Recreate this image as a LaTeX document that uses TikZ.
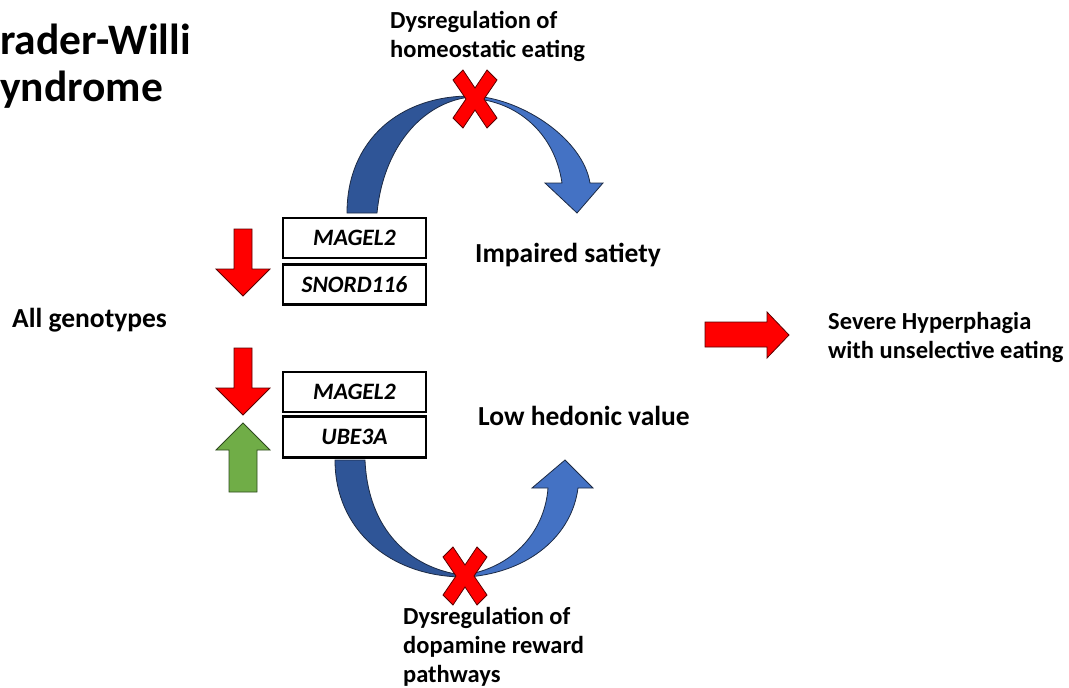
\documentclass[tikz,border=0pt]{standalone}
\usepackage{fontspec}
\setmainfont{Carlito}
\usetikzlibrary{positioning}
\definecolor{arcdark}{HTML}{2F5597}
\definecolor{arclight}{HTML}{4472C4}
\definecolor{arcline}{HTML}{1C2A44}
\definecolor{blockred}{HTML}{FF0000}
\definecolor{redline}{HTML}{5A0000}
\definecolor{blockgreen}{HTML}{70AD47}
\definecolor{greenline}{HTML}{2E4A1E}

\begin{document}
\begin{tikzpicture}[x=1pt, y=-1pt,
  title/.style={font=\fontsize{43.5}{53}\selectfont\bfseries, inner sep=0pt, anchor=base west},
  lbl/.style={font=\fontsize{27.5}{33}\selectfont\bfseries, inner sep=0pt, anchor=base west},
  note/.style={font=\fontsize{24.5}{29}\selectfont\bfseries, inner sep=0pt, anchor=north west, align=left},
  genebox/.style={draw, line width=2.6pt, minimum width=143pt, minimum height=40pt, inner sep=0pt, font=\fontsize{23.5}{28}\selectfont\bfseries\itshape},
  backarc/.style={fill=arcdark, draw=arcline, line width=0.8pt},
  frontarc/.style={fill=arclight, draw=arcline, line width=0.8pt},
  redblock/.style={fill=blockred, draw=redline, line width=0.8pt},
  greenblock/.style={fill=blockgreen, draw=greenline, line width=0.8pt},
  redx/.pic={\filldraw[redblock] (-22,-19) -- (-12,-29) -- (0,-11) -- (12,-29) -- (22,-19) -- (9,0) -- (22,19) -- (12,29) -- (0,11) -- (-12,29) -- (-22,19) -- (-9,0) -- cycle;}]
\useasboundingbox (0,0) rectangle (1069,688);

% title, cut at the left edge
\node[title] (titleA) at (0,54) {rader-Willi};
\node[title] (titleB) at (0,101) {yndrome};

% homeostatic loop
\filldraw[backarc] (347,213) .. controls (347,140) and (400,96) .. (470,96)
  -- (470,97) .. controls (420,103) and (383,150) .. (377,213) -- cycle;
\filldraw[frontarc] (475,96) .. controls (525,100) and (583,140) .. (590,183)
  -- (603,183) -- (577,213) -- (545,183) -- (562,183)
  .. controls (555,135) and (520,104) .. (478,99) -- cycle;

% reward loop
\filldraw[backarc] (335,460) .. controls (335,530) and (390,576) .. (462,577)
  -- (462,575) .. controls (410,568) and (368,530) .. (365,460) -- cycle;
\filldraw[frontarc] (468,577) .. controls (530,572) and (572,535) .. (578,488)
  -- (593,488) -- (565,460) -- (532,488) -- (548,488)
  .. controls (545,530) and (515,565) .. (470,574) -- cycle;

\pic at (475,99) {redx};
\pic at (465,576) {redx};

% genes
\node[genebox] (magelA) at (354.5,238) {MAGEL2};
\node[genebox, below=4pt of magelA] (snord) {SNORD116};
\node[genebox] (magelB) at (354.5,392) {MAGEL2};
\node[genebox, minimum height=41pt, below=2pt of magelB] (ube) {UBE3A};

% expression arrows
\filldraw[redblock] (234,229) -- (252,229) -- (252,269) -- (270,269) -- (243,296) -- (216,269) -- (234,269) -- cycle;
\filldraw[redblock] (234,348) -- (252,348) -- (252,388) -- (270,388) -- (243,415) -- (216,388) -- (234,388) -- cycle;
\filldraw[greenblock] (229,492) -- (257,492) -- (257,450) -- (270,450) -- (243,423) -- (216,450) -- (229,450) -- cycle;
\filldraw[redblock] (705,322) -- (767,322) -- (767,312) -- (789,335) -- (767,358) -- (767,347) -- (705,347) -- cycle;

% labels
\node[note] (homeo) at (390,11) {Dysregulation of\\homeostatic eating};
\node[lbl] (satiety) at (475,262) {Impaired satiety};
\node[lbl] (geno) at (12,327) {All genotypes};
\node[lbl] (hedonic) at (478,425) {Low hedonic value};
\node[note] (hyper) at (828,312) {Severe Hyperphagia\\with unselective eating};
\node[note] (reward) at (403,607) {Dysregulation of\\dopamine reward\\pathways};
\end{tikzpicture}
\end{document}
